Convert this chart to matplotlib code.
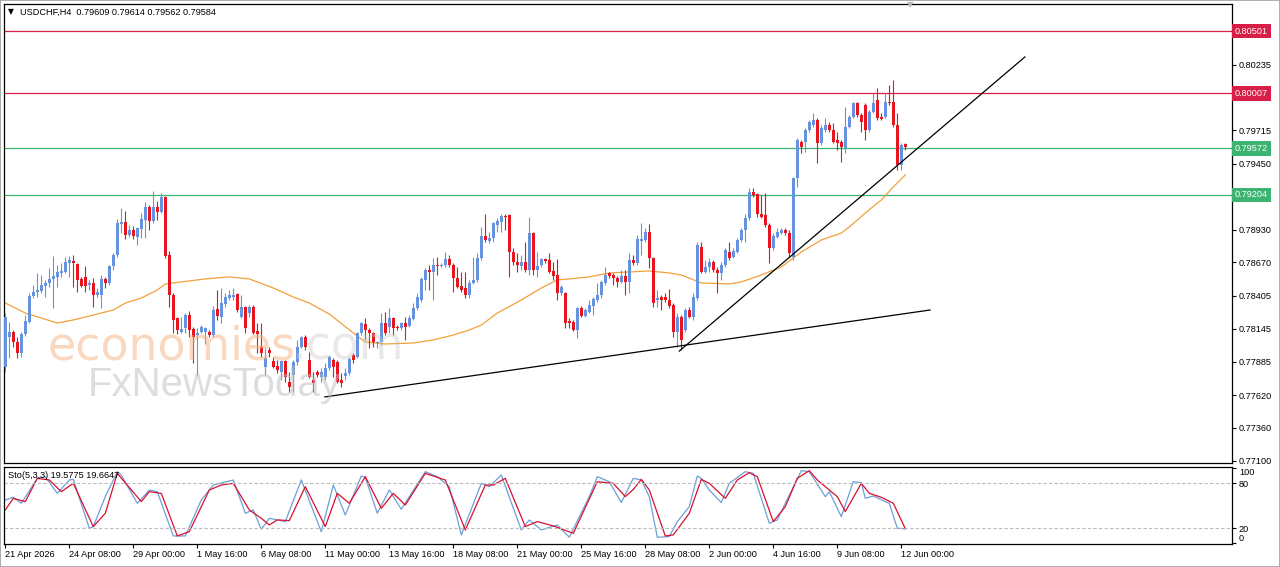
import matplotlib
matplotlib.use('Agg')
import matplotlib.pyplot as plt
import numpy as np
from matplotlib.patches import Rectangle

plt.rcParams['font.family'] = ['Liberation Sans', 'DejaVu Sans']

# USDCHF H4 свічки (читано з графіка)
opens = [
    0.77842, 0.78080, 0.78119, 0.78040, 0.77952, 0.78103, 0.78198, 0.78404, 0.78435, 0.78443,
    0.78484, 0.78507, 0.78539, 0.78555, 0.78586, 0.78594, 0.78665, 0.78681, 0.78657, 0.78539,
    0.78555, 0.78491, 0.78507, 0.78411, 0.78411, 0.78539, 0.78507, 0.78641, 0.78728, 0.78973,
    0.78989, 0.78886, 0.78926, 0.78870, 0.78934, 0.79005, 0.79109, 0.78997, 0.79109, 0.79069,
    0.79188, 0.78728, 0.78411, 0.78230, 0.78119, 0.78151, 0.78253, 0.78143, 0.78095, 0.78119,
    0.78119, 0.78119, 0.78095, 0.78301, 0.78238, 0.78340, 0.78388, 0.78396, 0.78419, 0.78238,
    0.78317, 0.78269, 0.78317, 0.78127, 0.78001, 0.77842, 0.77976, 0.77889, 0.77850, 0.77802,
    0.77889, 0.77723, 0.77779, 0.77881, 0.78001, 0.78080, 0.77897, 0.77739, 0.77802, 0.77763,
    0.77763, 0.77834, 0.77897, 0.77881, 0.77739, 0.77771, 0.77794, 0.77937, 0.77921, 0.78111,
    0.78182, 0.78135, 0.78111, 0.78032, 0.78040, 0.78190, 0.78159, 0.78230, 0.78159, 0.78151,
    0.78190, 0.78167, 0.78222, 0.78309, 0.78372, 0.78531, 0.78610, 0.78594, 0.78649, 0.78641,
    0.78649, 0.78697, 0.78649, 0.78547, 0.78484, 0.78467, 0.78411, 0.78507, 0.78531, 0.78705,
    0.78878, 0.78839, 0.78862, 0.78965, 0.78989, 0.79037, 0.79045, 0.78752, 0.78673, 0.78641,
    0.78673, 0.78610, 0.78902, 0.78610, 0.78649, 0.78697, 0.78689, 0.78602, 0.78570, 0.78427,
    0.78427, 0.78206, 0.78198, 0.78135, 0.78309, 0.78246, 0.78277, 0.78324, 0.78372, 0.78411,
    0.78507, 0.78586, 0.78570, 0.78547, 0.78515, 0.78563, 0.78515, 0.78689, 0.78665, 0.78839,
    0.78847, 0.78910, 0.78705, 0.78372, 0.78396, 0.78396, 0.78372, 0.78332, 0.78119, 0.78238,
    0.78135, 0.78293, 0.78238, 0.78388, 0.78792, 0.78594, 0.78633, 0.78673, 0.78610, 0.78586,
    0.78649, 0.78752, 0.78713, 0.78752, 0.78847, 0.78926, 0.79021, 0.79227, 0.79211, 0.79053,
    0.79045, 0.78965, 0.78784, 0.78870, 0.78902, 0.78926, 0.78902, 0.78713, 0.79338, 0.79623,
    0.79623, 0.79718, 0.79757, 0.79797, 0.79615, 0.79718, 0.79757, 0.79718, 0.79639, 0.79623,
    0.79575, 0.79741, 0.79820, 0.79931, 0.79836, 0.79915, 0.79718, 0.79860, 0.79955, 0.79820,
    0.79820, 0.79939, 0.79939, 0.79757, 0.79441, 0.79609,
]
highs = [
    0.78269, 0.78198, 0.78135, 0.78080, 0.78119, 0.78253, 0.78427, 0.78491, 0.78586, 0.78570,
    0.78531, 0.78626, 0.78721, 0.78649, 0.78665, 0.78713, 0.78721, 0.78728, 0.78665, 0.78555,
    0.78641, 0.78531, 0.78547, 0.78467, 0.78570, 0.78555, 0.78649, 0.78744, 0.79014, 0.79101,
    0.79077, 0.78965, 0.78957, 0.78950, 0.79061, 0.79148, 0.79125, 0.79235, 0.79156, 0.79219,
    0.79196, 0.78760, 0.78427, 0.78238, 0.78238, 0.78269, 0.78285, 0.78159, 0.78151, 0.78174,
    0.78159, 0.78135, 0.78324, 0.78451, 0.78467, 0.78427, 0.78451, 0.78467, 0.78427, 0.78411,
    0.78324, 0.78332, 0.78332, 0.78190, 0.78190, 0.77992, 0.78001, 0.77921, 0.77897, 0.77897,
    0.77897, 0.77802, 0.77897, 0.78056, 0.78088, 0.78095, 0.77960, 0.77802, 0.77818, 0.77834,
    0.77873, 0.77937, 0.77913, 0.77897, 0.77794, 0.77834, 0.77921, 0.77952, 0.78119, 0.78198,
    0.78230, 0.78151, 0.78119, 0.78048, 0.78269, 0.78277, 0.78309, 0.78238, 0.78174, 0.78198,
    0.78238, 0.78253, 0.78348, 0.78427, 0.78555, 0.78626, 0.78649, 0.78705, 0.78713, 0.78665,
    0.78752, 0.78728, 0.78665, 0.78633, 0.78594, 0.78594, 0.78531, 0.78713, 0.78744, 0.78950,
    0.79053, 0.78910, 0.78989, 0.79021, 0.79053, 0.79053, 0.79053, 0.78784, 0.78744, 0.78728,
    0.78831, 0.79029, 0.78910, 0.78752, 0.78705, 0.78705, 0.78744, 0.78673, 0.78697, 0.78491,
    0.78435, 0.78230, 0.78214, 0.78317, 0.78324, 0.78309, 0.78372, 0.78396, 0.78507, 0.78531,
    0.78633, 0.78594, 0.78586, 0.78563, 0.78610, 0.78610, 0.78744, 0.78728, 0.78886, 0.78981,
    0.78942, 0.78973, 0.78713, 0.78451, 0.78411, 0.78427, 0.78459, 0.78348, 0.78269, 0.78253,
    0.78309, 0.78317, 0.78427, 0.78831, 0.78831, 0.78689, 0.78705, 0.78689, 0.78633, 0.78673,
    0.78784, 0.78831, 0.78784, 0.78862, 0.78942, 0.79053, 0.79259, 0.79259, 0.79219, 0.79203,
    0.79219, 0.78981, 0.78902, 0.78942, 0.78942, 0.78942, 0.78926, 0.79346, 0.79654, 0.79639,
    0.79733, 0.79797, 0.79852, 0.79812, 0.79757, 0.79812, 0.79781, 0.79773, 0.79702, 0.79639,
    0.79900, 0.79836, 0.79939, 0.79939, 0.79852, 0.79931, 0.79876, 0.80011, 0.80051, 0.79852,
    0.80011, 0.80074, 0.80114, 0.79852, 0.79615, 0.79614,
]
lows = [
    0.77802, 0.77913, 0.78001, 0.77913, 0.77921, 0.78088, 0.78190, 0.78388, 0.78396, 0.78427,
    0.78396, 0.78476, 0.78309, 0.78476, 0.78555, 0.78586, 0.78555, 0.78476, 0.78435, 0.78476,
    0.78435, 0.78451, 0.78317, 0.78396, 0.78309, 0.78467, 0.78491, 0.78610, 0.78713, 0.78902,
    0.78855, 0.78870, 0.78855, 0.78807, 0.78862, 0.78862, 0.78926, 0.78981, 0.79005, 0.79061,
    0.78705, 0.78317, 0.78111, 0.78103, 0.78111, 0.78111, 0.78080, 0.77873, 0.77778, 0.78111,
    0.78024, 0.78080, 0.78080, 0.78214, 0.78190, 0.78317, 0.78372, 0.78372, 0.78277, 0.78230,
    0.78111, 0.78238, 0.78103, 0.77952, 0.77921, 0.77779, 0.77921, 0.77834, 0.77794, 0.77739,
    0.77723, 0.77644, 0.77644, 0.77858, 0.77992, 0.77976, 0.77755, 0.77644, 0.77763, 0.77723,
    0.77739, 0.77818, 0.77763, 0.77715, 0.77684, 0.77739, 0.77779, 0.77873, 0.77913, 0.78095,
    0.78056, 0.77992, 0.78001, 0.77992, 0.78016, 0.78095, 0.78111, 0.78095, 0.78135, 0.78135,
    0.78056, 0.78159, 0.78214, 0.78293, 0.78356, 0.78451, 0.78451, 0.78372, 0.78570, 0.78633,
    0.78633, 0.78633, 0.78435, 0.78467, 0.78435, 0.78388, 0.78388, 0.78499, 0.78515, 0.78689,
    0.78831, 0.78823, 0.78831, 0.78910, 0.78910, 0.78926, 0.78555, 0.78649, 0.78594, 0.78610,
    0.78594, 0.78570, 0.78570, 0.78555, 0.78633, 0.78665, 0.78586, 0.78531, 0.78372, 0.78411,
    0.78151, 0.78151, 0.78127, 0.78072, 0.78238, 0.78238, 0.78269, 0.78253, 0.78356, 0.78388,
    0.78491, 0.78547, 0.78491, 0.78476, 0.78507, 0.78411, 0.78427, 0.78649, 0.78649, 0.78728,
    0.78831, 0.78626, 0.78317, 0.78317, 0.78293, 0.78356, 0.78309, 0.78080, 0.78001, 0.77976,
    0.78119, 0.78230, 0.78214, 0.78372, 0.78586, 0.78586, 0.78594, 0.78594, 0.78427, 0.78531,
    0.78633, 0.78689, 0.78705, 0.78744, 0.78831, 0.78831, 0.79005, 0.79188, 0.79029, 0.79021,
    0.78950, 0.78665, 0.78768, 0.78862, 0.78894, 0.78886, 0.78713, 0.78689, 0.79267, 0.79536,
    0.79544, 0.79702, 0.79741, 0.79456, 0.79599, 0.79702, 0.79702, 0.79615, 0.79560, 0.79464,
    0.79536, 0.79733, 0.79812, 0.79820, 0.79702, 0.79639, 0.79702, 0.79852, 0.79797, 0.79797,
    0.79812, 0.79915, 0.79741, 0.79401, 0.79401, 0.79562,
]
closes = [
    0.78238, 0.78119, 0.78040, 0.77952, 0.78103, 0.78206, 0.78404, 0.78435, 0.78451, 0.78491,
    0.78507, 0.78539, 0.78563, 0.78594, 0.78602, 0.78673, 0.78689, 0.78665, 0.78531, 0.78484,
    0.78484, 0.78507, 0.78411, 0.78435, 0.78539, 0.78507, 0.78641, 0.78728, 0.78981, 0.78989,
    0.78886, 0.78926, 0.78878, 0.78942, 0.79014, 0.79109, 0.78997, 0.79109, 0.79069, 0.79188,
    0.78721, 0.78411, 0.78214, 0.78135, 0.78143, 0.78253, 0.78135, 0.78080, 0.78111, 0.78159,
    0.78151, 0.78095, 0.78293, 0.78246, 0.78348, 0.78396, 0.78411, 0.78411, 0.78293, 0.78317,
    0.78151, 0.78317, 0.78111, 0.78103, 0.77952, 0.77913, 0.77952, 0.77842, 0.77818, 0.77889,
    0.77763, 0.77684, 0.77881, 0.78001, 0.78080, 0.78001, 0.77763, 0.77715, 0.77779, 0.77802,
    0.77834, 0.77921, 0.77842, 0.77723, 0.77715, 0.77794, 0.77905, 0.77897, 0.78111, 0.78190,
    0.78135, 0.78111, 0.78040, 0.78040, 0.78190, 0.78111, 0.78230, 0.78151, 0.78151, 0.78190,
    0.78159, 0.78230, 0.78309, 0.78396, 0.78539, 0.78610, 0.78594, 0.78649, 0.78641, 0.78649,
    0.78697, 0.78649, 0.78547, 0.78476, 0.78451, 0.78411, 0.78507, 0.78531, 0.78705, 0.78878,
    0.78847, 0.78862, 0.78981, 0.78997, 0.79037, 0.79029, 0.78752, 0.78673, 0.78649, 0.78673,
    0.78610, 0.78902, 0.78610, 0.78641, 0.78697, 0.78681, 0.78594, 0.78563, 0.78427, 0.78476,
    0.78190, 0.78190, 0.78135, 0.78309, 0.78246, 0.78293, 0.78332, 0.78380, 0.78411, 0.78515,
    0.78570, 0.78563, 0.78547, 0.78515, 0.78563, 0.78515, 0.78689, 0.78665, 0.78855, 0.78855,
    0.78910, 0.78705, 0.78348, 0.78388, 0.78372, 0.78372, 0.78324, 0.78119, 0.78238, 0.78056,
    0.78293, 0.78238, 0.78396, 0.78807, 0.78594, 0.78633, 0.78673, 0.78610, 0.78586, 0.78649,
    0.78768, 0.78705, 0.78760, 0.78847, 0.78926, 0.79021, 0.79227, 0.79203, 0.79053, 0.79029,
    0.78965, 0.78784, 0.78878, 0.78910, 0.78926, 0.78902, 0.78744, 0.79338, 0.79639, 0.79583,
    0.79718, 0.79781, 0.79797, 0.79615, 0.79733, 0.79757, 0.79718, 0.79623, 0.79615, 0.79583,
    0.79741, 0.79820, 0.79931, 0.79836, 0.79781, 0.79718, 0.79860, 0.79931, 0.79812, 0.79805,
    0.79939, 0.79931, 0.79757, 0.79441, 0.79599, 0.79584,
]

# ковзна середня (помаранчева), точки по індексу бару
ma_idx = [0, 5, 13, 17, 22, 27, 30, 34, 38, 40, 44, 50, 56, 61, 67, 72, 76, 81, 87, 90,
          95, 102, 107, 112, 116, 119, 123, 129, 134, 138, 141, 146, 151, 156, 161, 166, 169, 174, 181, 184,
          189, 194, 199, 204, 209, 211, 215, 219, 222, 225]
ma_val = [0.78348, 0.78269, 0.78190, 0.78214, 0.78253, 0.78293, 0.78348, 0.78388, 0.78451, 0.78499,
          0.78515, 0.78539, 0.78555, 0.78539, 0.78467, 0.78396, 0.78348, 0.78261, 0.78111, 0.78040,
          0.78024, 0.78032, 0.78056, 0.78095, 0.78135, 0.78174, 0.78269, 0.78372, 0.78467, 0.78531,
          0.78539, 0.78555, 0.78586, 0.78594, 0.78602, 0.78586, 0.78570, 0.78507, 0.78499, 0.78515,
          0.78570, 0.78633, 0.78752, 0.78847, 0.78902, 0.78950, 0.79061, 0.79164, 0.79267, 0.79362]

# рівні та трендові лінії
levels = [0.80501, 0.80007, 0.79572, 0.79204]
level_colors = ['#D81E46', '#D81E46', '#3CB371', '#3CB371']
trend1_idx = [79.9, 231.2]
trend1_val = [0.77605, 0.78293]
trend2_idx = [168.5, 254.9]
trend2_val = [0.77968, 0.80296]

price_ticks = [0.77100, 0.77360, 0.77620, 0.77885, 0.78145, 0.78405, 0.78670,
               0.78930, 0.79190, 0.79450, 0.79715, 0.79975, 0.80235]

# стохастик Sto(5,3,3)
k_idx = [0, 2, 4, 8, 10, 13, 16, 17, 21, 22, 25, 28, 29, 33, 36, 38, 42, 45, 49, 52,
         57, 60, 62, 64, 66, 70, 74, 79, 82, 85, 89, 90, 93, 96, 99, 105, 108, 111, 114, 119,
         121, 124, 129, 131, 134, 138, 141, 146, 148, 151, 154, 157, 159, 161, 163, 166, 168, 171, 173, 174,
         176, 179, 181, 185, 187, 191, 193, 195, 199, 201, 205, 206, 209, 212, 214, 215, 217, 220, 221, 223, 225]
k_val = [58, 61.6, 53.6, 86.9, 89, 66.9, 84.7, 85.5, 20.3, 22.5, 62.5, 95.8, 91.3, 53.6, 71.3, 69.1, 10, 10, 58, 78,
         84.7, 40.3, 44.7, 18.9, 33.6, 29.2, 84.7, 15.8, 78, 38, 90, 88.2, 40.3, 71.3, 45.6, 95.8, 89.1, 75.8, 11.4, 80.2,
         75.8, 91.3, 18, 31.4, 18, 24.7, 8.3, 62.5, 89.1, 82.4, 54.5, 86.9, 84.7, 62.5, 8.3, 9.2, 29.2, 49.1, 90, 86.9,
         71.3, 54.5, 80.2, 95.8, 93.5, 27, 31.4, 53.6, 97.1, 95.8, 62.5, 69.1, 35.8, 82.4, 81.1, 60.2, 63.3, 55.8, 53.6, 20.3, 19.58]
d_idx = [0, 2, 5, 8, 11, 14, 17, 22, 25, 28, 34, 36, 39, 43, 46, 51, 54, 57, 61, 64,
         66, 68, 71, 75, 80, 83, 86, 90, 94, 97, 100, 105, 110, 115, 120, 122, 125, 130, 133, 137,
         142, 148, 152, 155, 157, 159, 161, 165, 167, 171, 174, 176, 180, 183, 186, 188, 192, 195, 198, 201,
         203, 206, 208, 210, 214, 216, 219, 222, 225]
d_val = [44.7, 60.2, 55.8, 86.9, 84.7, 69.1, 80.2, 22.5, 40.3, 93.5, 55.8, 69.1, 66.9, 10, 15.8, 71.3, 78, 80.2, 44.7, 33.6,
         24.7, 31.4, 30.5, 75.8, 22.5, 66.9, 53.6, 89.1, 46.9, 66.9, 51.3, 93.5, 84.7, 18, 78, 78, 86.9, 22.5, 29.2, 23.4,
         13.6, 82.4, 80.2, 62.5, 72, 85.5, 71.3, 10, 11.4, 40.3, 85.5, 80.2, 60.2, 84.7, 94.4, 89.1, 29.2, 49.1, 86.9, 97.1,
         84.7, 71.3, 62.5, 42.5, 80.2, 66.9, 61.6, 53.6, 19.66]

date_idx = [0, 16, 32, 48, 64, 80, 96, 112, 128, 144, 160, 176, 192, 208, 224]
date_lbl = ['21 Apr 2026', '24 Apr 08:00', '29 Apr 00:00', '1 May 16:00', '6 May 08:00',
            '11 May 00:00', '13 May 16:00', '18 May 08:00', '21 May 00:00', '25 May 16:00',
            '28 May 08:00', '2 Jun 00:00', '4 Jun 16:00', '9 Jun 08:00', '12 Jun 00:00']

BLUE = '#6593E0'
RED = '#E8141E'
FS = 6.6

W, H = 1280, 567
fig = plt.figure(figsize=(W / 100, H / 100), dpi=100)
ax = fig.add_axes([4 / W, 1 - 463 / H, 1228 / W, 459 / H])
ax2 = fig.add_axes([4 / W, 1 - 544 / H, 1228 / W, 77 / H])

o = np.array(opens)
h = np.array(highs)
l = np.array(lows)
c = np.array(closes)
idx = np.arange(len(c))
cols = np.where(c >= o, BLUE, RED)

# свічки
ax.vlines(idx, l, h, colors=cols, lw=0.8, zorder=3)
body_lo = np.minimum(o, c)
body_h = np.maximum(np.abs(c - o), 0.00002)
ax.bar(idx, body_h, bottom=body_lo, width=0.8, color=cols, linewidth=0, zorder=3)

ax.plot(ma_idx, ma_val, color='#F2A03A', lw=0.9, zorder=2)
ax.plot(trend1_idx, trend1_val, color='black', lw=0.9, zorder=4)
ax.plot(trend2_idx, trend2_val, color='black', lw=0.9, zorder=4)

for lv, col in zip(levels, level_colors):
    ax.axhline(lv, color=col, lw=0.9, zorder=1)

ax.set_xlim(-0.325, 306.675)
ax.set_ylim(0.77082, 0.80715)
ax.yaxis.tick_right()
ax.set_yticks(price_ticks)
ax.set_yticklabels([f'{t:.5f}' for t in price_ticks])
ax.tick_params(axis='y', direction='out', length=3, width=0.8, pad=2, labelsize=FS)
ax.tick_params(axis='x', bottom=False, labelbottom=False)
for sp in ax.spines.values():
    sp.set_linewidth(0.9)

# підписи рівнів праворуч (перекривають сусідні мітки, як у MT4)
for lv, col in zip(levels, level_colors):
    ax.annotate(f'{lv:.5f}', xy=(1, lv), xycoords=('axes fraction', 'data'),
                xytext=(2.2, 0), textcoords='offset points', ha='left', va='center',
                fontsize=FS, color='white', annotation_clip=False, zorder=6,
                bbox=dict(boxstyle='square,pad=0.3', fc=col, ec='none'))

# водяні знаки
fig.text(48 / W, 1 - 347 / H, 'economies', family='DejaVu Sans', fontsize=33,
         color='#F6B080', alpha=0.5, va='center', ha='left', zorder=10)
fig.text(291 / W, 1 - 347 / H, '.com', family='DejaVu Sans', fontsize=33,
         color='#C8C8C8', alpha=0.4, va='center', ha='left', zorder=10)
fig.text(88 / W, 1 - 385 / H, 'FxNewsToday', family='Liberation Sans', fontsize=29,
         color='#BDBDBD', alpha=0.5, va='center', ha='left', zorder=10)

# стохастик
ax2.plot(k_idx, k_val, color='#6F9FD8', lw=0.9)
ax2.plot(d_idx, d_val, color='#D8102E', lw=0.9)
for lv in (80, 20):
    ax2.axhline(lv, color='#BBBBBB', lw=0.8, ls=(0, (3, 2)))
ax2.set_xlim(-0.325, 306.675)
ax2.set_ylim(-0.7, 102)
ax2.yaxis.tick_right()
ax2.set_yticks([0, 20, 80, 100])
ax2.set_yticklabels(['0', '20', '80', '100'])
ax2.tick_params(axis='y', direction='out', length=3, width=0.8, pad=2, labelsize=FS)
for t in ax2.get_yticklabels():
    if t.get_text() == '100':
        t.set_va('top')
    elif t.get_text() == '0':
        t.set_va('bottom')
ax2.set_xticks(date_idx)
ax2.set_xticklabels(date_lbl, ha='left')
ax2.tick_params(axis='x', direction='out', length=3, width=0.8, pad=1.5, labelsize=FS)
for sp in ax2.spines.values():
    sp.set_linewidth(0.9)

fig.text(8 / W, 1 - 476 / H, 'Sto(5,3,3) 19.5775 19.6647', fontsize=FS, va='center', ha='left')
fig.text(8 / W, 1 - 12 / H, '\u25bc', family='DejaVu Sans', fontsize=5.5, va='center', ha='left')
fig.text(20 / W, 1 - 12 / H, 'USDCHF,H4  0.79609 0.79614 0.79562 0.79584', fontsize=FS,
         va='center', ha='left')
fig.text(910 / W, 1 - 5 / H, '\u25bc', family='DejaVu Sans', fontsize=6, color='#B8B8B8',
         va='center', ha='center')

fig.add_artist(Rectangle((0, 0), 1, 1, transform=fig.transFigure, fill=False,
                         ec='#A0A0A0', lw=1.2))

fig.savefig('out.png', dpi=100)
